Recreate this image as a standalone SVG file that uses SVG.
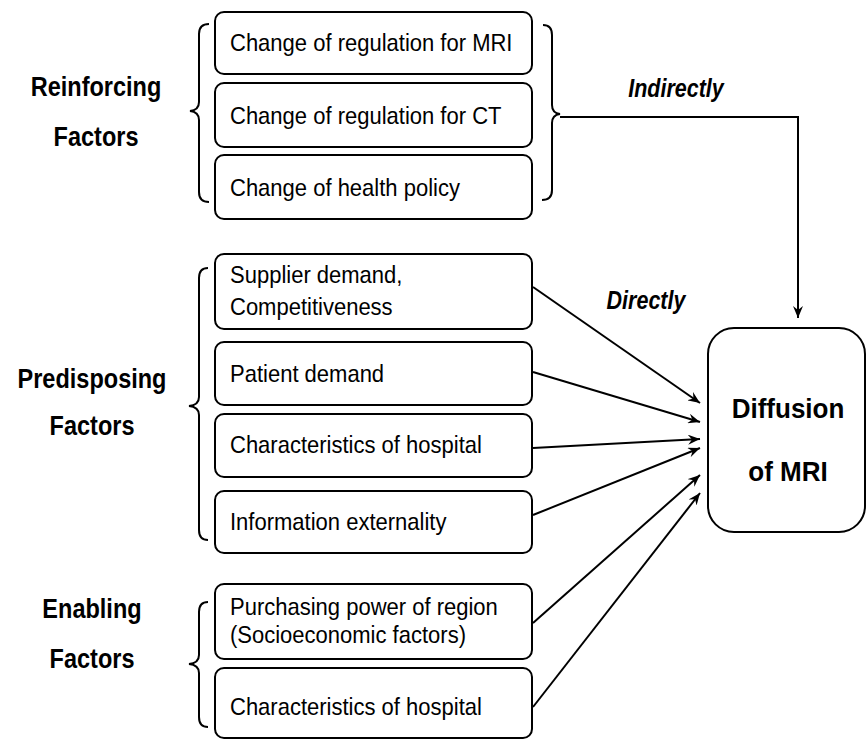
<svg xmlns="http://www.w3.org/2000/svg" width="866" height="742" viewBox="0 0 866 742">
<style>
.box{fill:#fff;stroke:#000;stroke-width:2}
.t{font-family:"Liberation Sans",Arial,sans-serif;font-size:24px;fill:#000}
.lbl{font-family:"Liberation Sans",Arial,sans-serif;font-size:28px;font-weight:bold;fill:#000;text-anchor:middle}
.big{font-family:"Liberation Sans",Arial,sans-serif;font-size:28px;font-weight:bold;fill:#000;text-anchor:middle}
.it{font-family:"Liberation Sans",Arial,sans-serif;font-size:25px;font-weight:bold;font-style:italic;fill:#000;text-anchor:middle}
.br{fill:none;stroke:#000;stroke-width:2}
.c{fill:none;stroke:#000;stroke-width:2}
</style>
<defs>
<marker id="ah" viewBox="0 0 12 10" refX="12" refY="5" markerWidth="12" markerHeight="10" markerUnits="userSpaceOnUse" orient="auto">
<path d="M0,0 L12,5 L0,10 L4,5 Z" fill="#000"/>
</marker>
</defs>
<rect width="866" height="742" fill="#fff"/>

<g id="labels">
<text class="lbl" transform="matrix(.84 0 0 1 96 96)">Reinforcing</text>
<text class="lbl" transform="matrix(.84 0 0 1 96 146)">Factors</text>
<text class="lbl" transform="matrix(.84 0 0 1 92 388)">Predisposing</text>
<text class="lbl" transform="matrix(.84 0 0 1 92 435)">Factors</text>
<text class="lbl" transform="matrix(.84 0 0 1 92 618)">Enabling</text>
<text class="lbl" transform="matrix(.84 0 0 1 92 668)">Factors</text>
</g>

<g id="braces">
<path class="br" d="M209,24 Q199,24 199,34 L199,102 Q199,110 190,111 Q199,112 199,120 L199,192 Q199,202 209,202"/>
<path class="br" d="M543,25 Q552,25 552,35 L552,105 Q552,113 560,114 Q552,115 552,123 L552,190 Q552,200 542,200"/>
<path class="br" d="M208,268 Q199,268 199,278 L199,397 Q199,405 189,406 Q199,407 199,415 L199,530 Q199,540 208,540"/>
<path class="br" d="M208,602 Q199,602 199,612 L199,655 Q199,663 189,664 Q199,665 199,673 L199,717 Q199,727 208,727"/>
</g>

<g id="r1"><rect class="box" x="215" y="12" width="317" height="62" rx="9"/><text class="t" transform="matrix(.917 0 0 1 230 51)">Change of regulation for MRI</text></g>
<g id="r2"><rect class="box" x="215" y="83" width="317" height="64" rx="9"/><text class="t" transform="matrix(.917 0 0 1 230 124)">Change of regulation for CT</text></g>
<g id="r3"><rect class="box" x="215" y="155" width="317" height="64" rx="9"/><text class="t" transform="matrix(.917 0 0 1 230 196)">Change of health policy</text></g>

<g id="p1"><rect class="box" x="215" y="254" width="317" height="75" rx="9"/><text class="t" transform="matrix(.917 0 0 1 230 283)">Supplier demand,</text><text class="t" transform="matrix(.917 0 0 1 230 315)">Competitiveness</text></g>
<g id="p2"><rect class="box" x="215" y="342" width="317" height="63" rx="9"/><text class="t" transform="matrix(.917 0 0 1 230 382)">Patient demand</text></g>
<g id="p3"><rect class="box" x="215" y="414" width="317" height="63" rx="9"/><text class="t" transform="matrix(.917 0 0 1 230 453)">Characteristics of hospital</text></g>
<g id="p4"><rect class="box" x="215" y="491" width="317" height="62" rx="9"/><text class="t" transform="matrix(.917 0 0 1 230 530)">Information externality</text></g>

<g id="e1"><rect class="box" x="215" y="584" width="317" height="75" rx="9"/><text class="t" transform="matrix(.917 0 0 1 230 615)">Purchasing power of region</text><text class="t" transform="matrix(.917 0 0 1 230 643)">(Socioeconomic factors)</text></g>
<g id="e2"><rect class="box" x="215" y="668" width="317" height="70" rx="9"/><text class="t" transform="matrix(.917 0 0 1 230 715)">Characteristics of hospital</text></g>

<g id="diffusion"><rect class="box" x="708" y="328" width="157" height="204" rx="26"/><text class="big" transform="matrix(.93 0 0 1 788 418)">Diffusion</text><text class="big" transform="matrix(.93 0 0 1 788 481)">of MRI</text></g>

<g id="connectors">
<path class="c" d="M560,117 L798,117 L798,318" marker-end="url(#ah)"/>
<line class="c" x1="533" y1="287" x2="700" y2="403" marker-end="url(#ah)"/>
<line class="c" x1="533" y1="372" x2="700" y2="422" marker-end="url(#ah)"/>
<line class="c" x1="533" y1="448" x2="700" y2="439" marker-end="url(#ah)"/>
<line class="c" x1="533" y1="515" x2="700" y2="448" marker-end="url(#ah)"/>
<line class="c" x1="533" y1="623" x2="700" y2="475" marker-end="url(#ah)"/>
<line class="c" x1="533" y1="707" x2="700" y2="493" marker-end="url(#ah)"/>
<text class="it" transform="matrix(.86 0 0 1 676 97)">Indirectly</text>
<text class="it" transform="matrix(.86 0 0 1 646 309)">Directly</text>
</g>
</svg>
